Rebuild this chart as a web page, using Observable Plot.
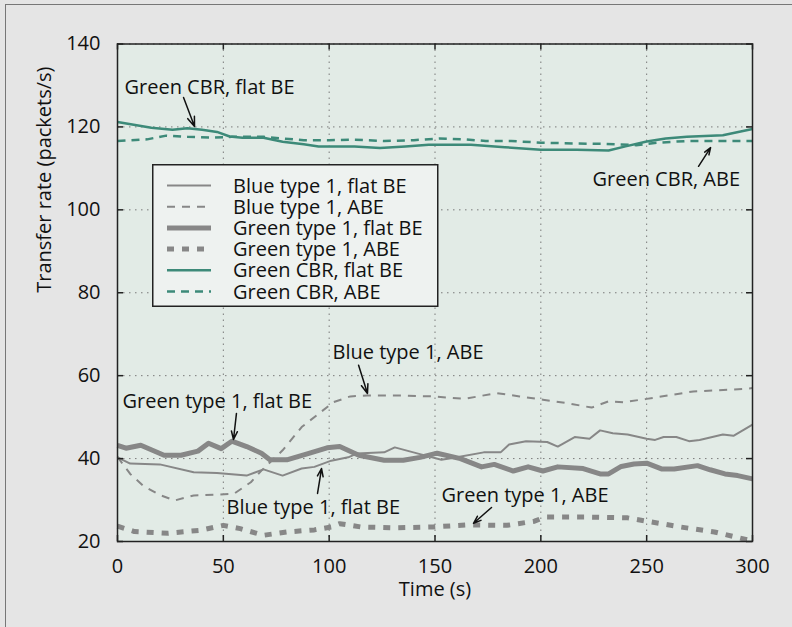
<!DOCTYPE html>
<html><head><meta charset="utf-8">
<script src="https://cdn.jsdelivr.net/npm/d3@7"></script>
<script src="https://cdn.jsdelivr.net/npm/@observablehq/plot@0.6"></script>
<style>
body{margin:0;background:#e5e5e5;}
#wrap{position:relative;width:792px;height:627px;background:#e5e5e5;overflow:hidden;font-family:"Open Sans",sans-serif;}
#border{position:absolute;left:5px;top:4px;width:900px;height:900px;border-top:1.5px solid #777;border-left:1.5px solid #777;}
#wrap svg{position:absolute;left:0;top:0;}
</style></head><body><div id="wrap"><div id="border"></div></div>
<script>
// ---- data ----
const xTicks = [0, 50, 100, 150, 200, 250, 300];
const yTicks = [20, 40, 60, 80, 100, 120, 140];

const blueFlatT = [0,6,20,36,47,61,69,78,87,93,101,109,113,126,131,142,153,159,173,181,185,193,203,208,216,223,228,234,241,250,254,258,264,270,275,286,291,300];
const blueFlatV = [40.3,38.8,38.6,36.7,36.5,35.9,37.4,35.9,37.6,38,39.5,40.3,41.2,41.5,42.7,41.2,39.7,40.2,41.5,41.5,43.4,44.2,44,42.9,45.2,44.8,46.8,46.1,45.8,44.8,44.5,45.2,45.2,44.2,44.5,45.8,45.5,48.2];

const blueAbeT = [0,6,12,20,27,36,47,55,63,68,78,87,95,102,110,118,134,149,164,179,190,201,212,224,232,239,250,260,272,284,296,300];
const blueAbeV = [40.4,36.3,33.5,31.2,29.9,31.1,31.3,31.5,34.3,37.1,42,47.6,50.8,53.6,55,55.2,55.2,55,54.4,55.8,55,54.2,53.4,52.3,53.8,53.6,54.4,55.2,56.2,56.5,56.8,57];

const greenFlatT = [0,4,11,22,30,38,43,49,54,61,68,72,80,90,99,105,114,126,135,143,151,162,172,178,187,194,201,208,220,228,232,238,244,250,257,263,274,280,287,293,300];
const greenFlatV = [43.2,42.5,43.2,40.8,40.8,41.8,43.7,42.4,44.2,42.9,41.3,39.7,39.7,41.2,42.6,42.9,40.8,39.6,39.6,40.3,41.3,40,38,38.6,37,38,37,38,37.6,36.3,36.3,38.1,38.7,38.9,37.5,37.5,38.3,37.3,36.3,35.9,35.1];

const greenAbeT = [0,8,24,39,50,58,69,80,93,101,105,115,130,149,165,184,197,202,222,241,250,266,282,300];
const greenAbeV = [23.7,22.4,22.0,22.7,23.9,23.1,21.5,22.3,22.8,23.5,24.3,23.5,23.3,23.5,24.0,23.9,24.9,25.9,25.9,25.7,24.9,23.5,22.3,20.1];

const cbrFlatT = [0,16,26,33,40,47,53,59,69,78,88,95,112,124,136,147,167,183,200,217,232,240,250,259,269,286,300];
const cbrFlatV = [121.2,119.8,119.3,119.7,119.3,118.8,117.7,117.4,117.4,116.4,115.8,115.3,115.3,114.9,115.3,115.7,115.7,115.1,114.5,114.5,114.3,115.3,116.5,117.2,117.6,118,119.5];

const cbrAbeT = [0,14,23,33,45,54,69,78,88,100,112,126,140,152,164,174,186,200,217,231,245,250,255,269,283,300];
const cbrAbeV = [116.6,117,117.9,117.6,117.4,117.6,117.6,117.2,116.8,116.8,116.9,116.6,116.8,117.2,117,116.6,116.6,116.2,116,115.9,115.6,115.9,116.2,116.6,116.6,116.6];

const seriesNames = ["Blue type 1, flat BE","Blue type 1, ABE","Green type 1, flat BE","Green type 1, ABE","Green CBR, flat BE","Green CBR, ABE"];

// annotations: label text, text anchor point, arrow tail, arrow head (data units)
const annText = ["Green CBR, flat BE","Green CBR, ABE","Blue type 1, ABE","Green type 1, flat BE","Blue type 1, flat BE","Green type 1, ABE"];
const annX  = [3.3, 224.4, 101.6, 2.4, 51.5, 153.1];
const annY  = [129.6, 107.3, 65.6, 53.8, 28.2, 31.1];
const arrX1 = [31.2, 274.5, 113.9, 56.2, 94.5, 176.7];
const arrY1 = [127.1, 110.5, 62.5, 50.9, 31.6, 28.2];
const arrX2 = [36.4, 280.2, 118.1, 54.8, 96.4, 168.2];
const arrY2 = [120.1, 115.0, 55.7, 44.6, 37.6, 24.4];

// ---- styles ----
const GRAY = "#878787", TEAL = "#3d8a79";
const styles = [
  {stroke: GRAY, strokeWidth: 2, dash: null},
  {stroke: GRAY, strokeWidth: 2, dash: "8,7"},
  {stroke: GRAY, strokeWidth: 5, dash: null},
  {stroke: GRAY, strokeWidth: 5, dash: "7,8"},
  {stroke: TEAL, strokeWidth: 2.5, dash: null},
  {stroke: TEAL, strokeWidth: 2.5, dash: "8,6"}
];

const seriesData = [
  [blueFlatT, blueFlatV], [blueAbeT, blueAbeV], [greenFlatT, greenFlatV],
  [greenAbeT, greenAbeV], [cbrFlatT, cbrFlatV], [cbrAbeT, cbrAbeV]
].map(([t, v]) => t.map((x, i) => ({x, y: v[i]})));

const annotations = annText.map((text, i) => ({text, x: annX[i], y: annY[i], x1: arrX1[i], y1: arrY1[i], x2: arrX2[i], y2: arrY2[i]}));

const W = 792, H = 627, mL = 117, mR = 40, mT = 43.5, mB = 86;
const plotH = H - mT - mB, plotW = W - mL - mR;
const FONT = "Open Sans";

const lineMarks = seriesData.map((data, i) => Plot.line(data, {
  x: "x", y: "y", stroke: styles[i].stroke, strokeWidth: styles[i].strokeWidth,
  strokeDasharray: styles[i].dash, strokeLinejoin: "round", strokeLinecap: "butt"
}));

const chart = Plot.plot({
  width: W, height: H,
  marginLeft: mL, marginRight: mR, marginTop: mT, marginBottom: mB,
  style: {background: "transparent", fontFamily: FONT, fontSize: "20px", color: "#111", overflow: "visible"},
  x: {domain: [0, 300], ticks: xTicks, label: null},
  y: {domain: [20, 140], ticks: yTicks, label: null},
  marks: [
    Plot.frame({fill: "#e2ebe6", stroke: null}),
    Plot.gridX(xTicks, {stroke: "#7a7a7a", strokeOpacity: 1, strokeDasharray: "1.5,4.5", strokeWidth: 1}),
    Plot.gridY(yTicks, {stroke: "#7a7a7a", strokeOpacity: 1, strokeDasharray: "1.5,4.5", strokeWidth: 1}),
    ...lineMarks,
    Plot.frame({stroke: "#222", strokeWidth: 1.5}),
    Plot.ruleX(xTicks, {x: d => d, insetTop: plotH - 6, stroke: "#222", strokeWidth: 1.5}),
    Plot.ruleX(xTicks, {x: d => d, insetBottom: plotH - 6, stroke: "#222", strokeWidth: 1.5}),
    Plot.ruleY(yTicks, {y: d => d, insetRight: plotW - 6, stroke: "#222", strokeWidth: 1.5}),
    Plot.ruleY(yTicks, {y: d => d, insetLeft: plotW - 6, stroke: "#222", strokeWidth: 1.5}),
    Plot.axisX(xTicks, {tickSize: 0, tickPadding: 17, fontSize: 20, fill: "#111"}),
    Plot.axisY(yTicks, {tickSize: 0, tickPadding: 17, fontSize: 20, fill: "#111"}),
    Plot.text(["Time (s)"], {frameAnchor: "bottom", dy: 54, fontSize: 20, fill: "#111"}),
    Plot.text(["Transfer rate (packets/s)"], {frameAnchor: "left", dx: -73, rotate: -90, fontSize: 20, fill: "#111"}),
    Plot.text(annotations, {x: "x", y: "y", text: "text", textAnchor: "start", fontSize: 20, fill: "#111"}),
    Plot.arrow(annotations, {x1: "x1", y1: "y1", x2: "x2", y2: "y2", stroke: "#111", strokeWidth: 1.5, headLength: 11, headAngle: 40})
  ]
});

const wrap = document.getElementById("wrap");
wrap.appendChild(chart);

// ---- legend (inside plot area) ----
const lg = d3.select(wrap).append("svg")
  .attr("width", 288).attr("height", 144)
  .style("left", "152px").style("top", "163.5px");
lg.append("rect").attr("x", 0.75).attr("y", 0.75).attr("width", 285).attr("height", 141.5)
  .attr("fill", "#eef2f0").attr("stroke", "#222").attr("stroke-width", 1.5);
seriesNames.forEach((name, i) => {
  const cy = 21.5 + i * 21.2;
  lg.append("line").attr("x1", 15).attr("x2", 59).attr("y1", cy).attr("y2", cy)
    .attr("stroke", styles[i].stroke).attr("stroke-width", styles[i].strokeWidth)
    .attr("stroke-dasharray", styles[i].dash);
  lg.append("text").attr("x", 81).attr("y", cy).attr("dy", "0.35em")
    .attr("font-family", FONT).attr("font-size", 20).attr("fill", "#111").text(name);
});
</script>
</body></html>
